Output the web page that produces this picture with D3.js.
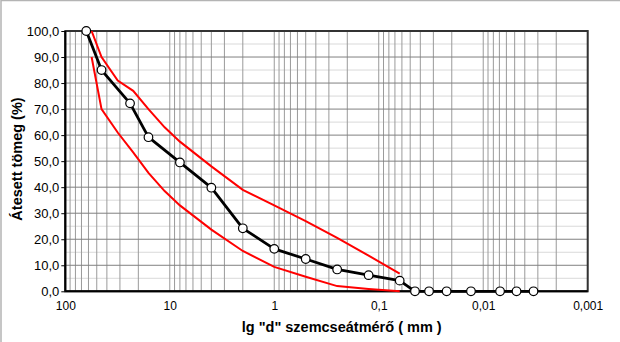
<!DOCTYPE html>
<html><head><meta charset="utf-8">
<script src="https://cdn.jsdelivr.net/npm/d3@7"></script>
<style>html,body{margin:0;padding:0;background:#fff;}svg{display:block;font-family:Arial,"Liberation Sans",sans-serif;}</style>
</head><body>
<svg id="c" width="620" height="342"></svg>
<script>
// Sample grading curve (black, measured points)
const sampleD = [63, 45, 24, 16, 8, 4, 2, 1, 0.5, 0.25, 0.125, 0.063, 0.045, 0.033, 0.0224, 0.0131, 0.0069, 0.0048, 0.0033];
const sampleP = [100, 85, 72.2, 59.2, 49.5, 39.8, 24.2, 16.3, 12.4, 8.4, 6.2, 4.1, 0, 0, 0, 0, 0, 0, 0];
// Upper limit curve (red)
const upperD = [56, 45, 31.5, 22.4, 16, 11.2, 8, 4, 2, 1, 0.5, 0.25, 0.125, 0.063];
const upperP = [100, 90, 81, 77, 70, 63, 57.5, 48, 39, 33, 27, 20.5, 13.7, 6.8];
// Lower limit curve (red)
const lowerD = [56, 45, 31.5, 22.4, 16, 11.2, 8, 4, 2, 1, 0.5, 0.25, 0.125, 0.063];
const lowerP = [90, 70, 61, 53.4, 45.5, 38.5, 33, 23.7, 15.5, 9.4, 5.6, 2.0, 0.9, 0];
// Axis ticks
const xTicks = [100, 10, 1, 0.1, 0.01, 0.001];
const xTickLabels = ["100", "10", "1", "0,1", "0,01", "0,001"];
const yTicks = [0, 10, 20, 30, 40, 50, 60, 70, 80, 90, 100];
const yTickLabels = ["0,0", "10,0", "20,0", "30,0", "40,0", "50,0", "60,0", "70,0", "80,0", "90,0", "100,0"];
const xTitle = 'lg "d" szemcseátmérő ( mm )';
const yTitle = "Átesett tömeg (%)";

const svg = d3.select("#c");
const L = 65.3, R = 587.7, T = 31, B = 291.3;
const x = d3.scaleLog().domain([100, 0.001]).range([L, R]);
const y = d3.scaleLinear().domain([0, 100]).range([B, T]);

// chart area border (only top/left visible)
svg.append("rect").attr("x", 1).attr("y", 0.5).attr("width", 640).attr("height", 360)
  .attr("fill", "none").attr("stroke", "#b4b4b4").attr("stroke-width", 1.5);

// horizontal minor gridlines (5s)
const g = svg.append("g");
d3.range(5, 100, 10).forEach(v => {
  g.append("line").attr("x1", L).attr("x2", R).attr("y1", y(v)).attr("y2", y(v))
    .attr("stroke", "#d9d9d9").attr("stroke-width", 1);
});
// vertical gridlines: every 1..9 multiple in each decade
const vLines = x.ticks();
vLines.forEach(d => {
  g.append("line").attr("x1", x(d)).attr("x2", x(d)).attr("y1", T).attr("y2", B)
    .attr("stroke", "#9a9a9a").attr("stroke-width", 1);
});
// horizontal major gridlines
yTicks.forEach(v => {
  g.append("line").attr("x1", L).attr("x2", R).attr("y1", y(v)).attr("y2", y(v))
    .attr("stroke", "#808080").attr("stroke-width", 1);
});

// plot border
svg.append("rect").attr("x", L).attr("y", T).attr("width", R - L).attr("height", B - T)
  .attr("fill", "none").attr("stroke", "#333").attr("stroke-width", 2);
svg.append("line").attr("x1", L).attr("x2", L).attr("y1", T).attr("y2", B).attr("stroke", "#000").attr("stroke-width", 2);
svg.append("line").attr("x1", L).attr("x2", R).attr("y1", B).attr("y2", B).attr("stroke", "#000").attr("stroke-width", 2);

// axes labels
const yAxis = d3.axisLeft(y).tickValues(yTicks).tickSize(4).tickFormat((d, i) => yTickLabels[i]);
const ya = svg.append("g").attr("transform", `translate(${L},0)`).call(yAxis);
ya.select(".domain").remove();
ya.selectAll("line").attr("stroke", "#000");
ya.selectAll("text").attr("font-size", "13px").attr("fill", "#000").attr("font-family", "Arial, 'Liberation Sans', sans-serif").attr("x", -6);

const xAxis = d3.axisBottom(x).tickValues(xTicks).tickSize(0).tickFormat((d, i) => xTickLabels[i]);
const xa = svg.append("g").attr("transform", `translate(0,${B})`).call(xAxis);
xa.select(".domain").remove();
xa.selectAll("text").attr("font-size", "12px").attr("fill", "#000").attr("font-family", "Arial, 'Liberation Sans', sans-serif").attr("dy", null).attr("y", 19);

// titles
svg.append("text").attr("x", 341.7).attr("y", 332).attr("text-anchor", "middle")
  .attr("font-size", "14.5px").attr("font-weight", "bold").text(xTitle);
svg.append("text").attr("transform", "translate(21.5,159) rotate(-90)").attr("text-anchor", "middle")
  .attr("font-size", "14.5px").attr("font-weight", "bold").text(yTitle);

// curves
const line = d3.line().x(d => x(d[0])).y(d => y(d[1]));
const up = upperD.map((d, i) => [d, upperP[i]]);
const lo = lowerD.map((d, i) => [d, lowerP[i]]);
const sm = sampleD.map((d, i) => [d, sampleP[i]]);
svg.append("path").attr("d", line(up)).attr("fill", "none").attr("stroke", "#ff0000").attr("stroke-width", 2);
svg.append("path").attr("d", line(lo)).attr("fill", "none").attr("stroke", "#ff0000").attr("stroke-width", 2);
svg.append("path").attr("d", line(sm)).attr("fill", "none").attr("stroke", "#000").attr("stroke-width", 2.8).attr("stroke-linejoin", "round");
svg.selectAll("circle.m").data(sm).enter().append("circle").attr("class", "m")
  .attr("cx", d => x(d[0])).attr("cy", d => y(d[1])).attr("r", 4.3)
  .attr("fill", "#fff").attr("stroke", "#000").attr("stroke-width", 1.2);
</script>
</body></html>
